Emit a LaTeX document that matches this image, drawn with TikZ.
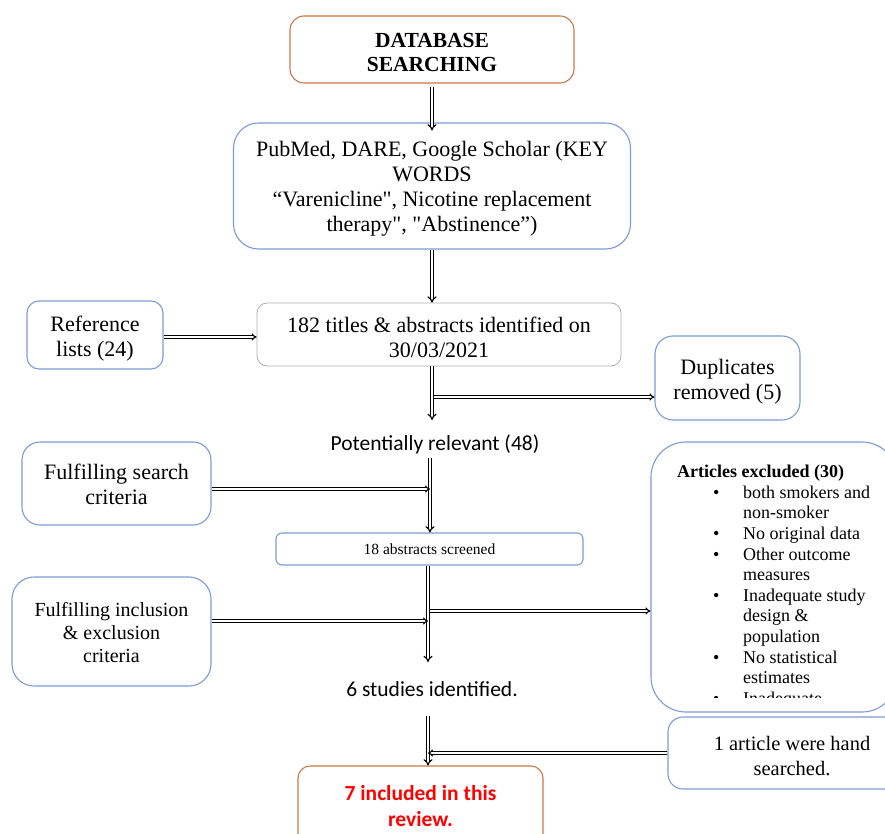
\documentclass[tikz,border=0pt]{standalone}
\usepackage{fontspec}
\setmainfont{Liberation Serif}
\newfontfamily\calibri{Carlito}
\usetikzlibrary{arrows.meta,calc}
\definecolor{boxblue}{RGB}{125,155,212}
\definecolor{boxbrown}{RGB}{196,122,72}
\definecolor{boxgray}{RGB}{175,175,175}
\definecolor{txtred}{RGB}{255,0,0}
\font\rawtm="Liberation Serif" at 22pt
\newcommand{\bulitem}[1]{\hspace*{36pt}\makebox[30pt][l]{\textbullet}#1}
\newcommand{\bulcont}[1]{\hspace*{66pt}#1}
\newcommand{\sdq}{{\rawtm\char34}}
\newcommand{\shifted}[2]{\raisebox{#1}[\height][\depth]{\begin{tabular}{@{}c@{}}#2\end{tabular}}}
\begin{document}
\begin{tikzpicture}[x=1pt,y=-1pt,
  box/.style={draw=boxblue, line width=1.1pt, rounded corners=#1, align=center, inner sep=0pt},
  box/.default=15pt,
  varrow/.style={draw=black, double=white, line width=1.2pt, double distance=1.8pt, -{Implies}},
  harrow/.style={draw=black, double=white, line width=1.1pt, double distance=1.2pt, -{Implies}},
  hline/.style={draw=black, double=white, line width=1.1pt, double distance=1.2pt},
  tm/.style={font=\fontsize{22}{25}\selectfont},
  cal/.style={font=\calibri\fontsize{21.5}{26}\selectfont, inner sep=0pt}
]
\useasboundingbox (0,0) rectangle (885,834);
\clip (0,0) rectangle (885,834);
\fill[white] (0,0) rectangle (885,834);

% boxes
\node[box=14pt, draw=boxbrown, minimum width=284pt, minimum height=67pt,
      font=\bfseries\fontsize{21.5}{24}\selectfont] (db) at (432,49.5) {\shifted{-5pt}{DATABASE\\SEARCHING}};
\node[box=25pt, tm, minimum width=397pt, minimum height=126pt] (pub) at (432,186)
  {\shifted{-3pt}{PubMed, DARE, Google Scholar (KEY\\WORDS\\“Varenicline\sdq, Nicotine replacement\\therapy\sdq, \sdq Abstinence”)}};
\node[box=12pt, tm, minimum width=136pt, minimum height=68pt] (ref) at (95,335) {\shifted{-4pt}{Reference\\lists (24)}};
\node[box=10pt, draw=boxgray, line width=0.8pt, tm, minimum width=364pt, minimum height=63pt] (t182) at (439,334.5)
  {\shifted{-5.5pt}{182 titles \& abstracts identified on\\30/03/2021}};
\node[box=18pt, tm, minimum width=145pt, minimum height=84pt] (dup) at (727.5,378) {\shifted{-4pt}{Duplicates\\removed (5)}};
\node[cal] (pot) at (435,444) {Potentially relevant (48)};
\node[box=18pt, tm, minimum width=189pt, minimum height=83pt] (fsc) at (116.5,483.5) {\shifted{-3.5pt}{Fulfilling search\\criteria}};
\node[box=6pt, minimum width=307pt, minimum height=32pt, font=\fontsize{15.5}{18}\selectfont] (abs) at (429.5,549)
  {18 abstracts screened};
\node[box=22pt, minimum width=199pt, minimum height=109pt, font=\fontsize{20}{23}\selectfont] (fie) at (111.5,631.5)
  {\shifted{-3pt}{Fulfilling inclusion\\\& exclusion\\criteria}};
\node[cal] (six) at (432,689) {6 studies identified.};
\node[box=35pt, minimum width=246pt, minimum height=270pt] (exc) at (774,577) {};
\begin{scope}
  \clip (645,440) rectangle (890,697);
  \node[anchor=north west, inner sep=0pt, align=left, font=\fontsize{18}{20.6}\selectfont] (exct) at (677,465)
  {\textbf{Articles excluded (30)}\\
   \bulitem{both smokers and}\\
   \bulcont{non-smoker}\\
   \bulitem{No original data}\\
   \bulitem{Other outcome}\\
   \bulcont{measures}\\
   \bulitem{Inadequate study}\\
   \bulcont{design \&}\\
   \bulcont{population}\\
   \bulitem{No statistical}\\
   \bulcont{estimates}\\
   \bulitem{Inadequate}};
\end{scope}
\node[box=15pt, minimum width=248pt, minimum height=72pt, font=\fontsize{20.5}{25}\selectfont] (hand) at (792,753)
  {\shifted{-5pt}{1 article were hand\\searched.}};
\node[box=12pt, draw=boxbrown, minimum width=245pt, minimum height=84pt,
      font=\calibri\bfseries\fontsize{21.5}{26}\selectfont, text=txtred] (inc) at (420.5,808)
  {\shifted{0pt}{7 included in this\\review.}};

% spine coordinates
\coordinate (s1) at (432,420);
\coordinate (s2) at (433.5,397);
\coordinate (s3) at (430,458);
\coordinate (s4) at (430,489);
\coordinate (s5) at (428,662);
\coordinate (s6) at (428,621);
\coordinate (s7) at (429.5,611);
\coordinate (s8) at (428,716);
\coordinate (s9) at (428,753);

% connectors
\draw[varrow, shorten >=-8pt, shorten <=3pt] (db.south) -- (db.south |- pub.north);
\draw[varrow] (pub.south) -- (pub.south |- t182.north);
\draw[harrow] (ref.east |- 0,337) -- (t182.west |- 0,337);
\draw[varrow] (t182.south -| s1) -- (s1);
\draw[harrow] (s2) -- (s2 -| dup.west);
\draw[varrow] (s3) -- (s3 |- abs.north);
\draw[harrow] (fsc.east |- s4) -- (s4);
\draw[varrow] (abs.south -| s5) -- (s5);
\draw[harrow] (fie.east |- s6) -- (s6);
\draw[harrow] (s7) -- (s7 -| exc.west);
\draw[varrow] (s8) -- (s8 |- inc.north);
\draw[harrow] (hand.west |- s9) -- (s9);
\end{tikzpicture}
\end{document}
